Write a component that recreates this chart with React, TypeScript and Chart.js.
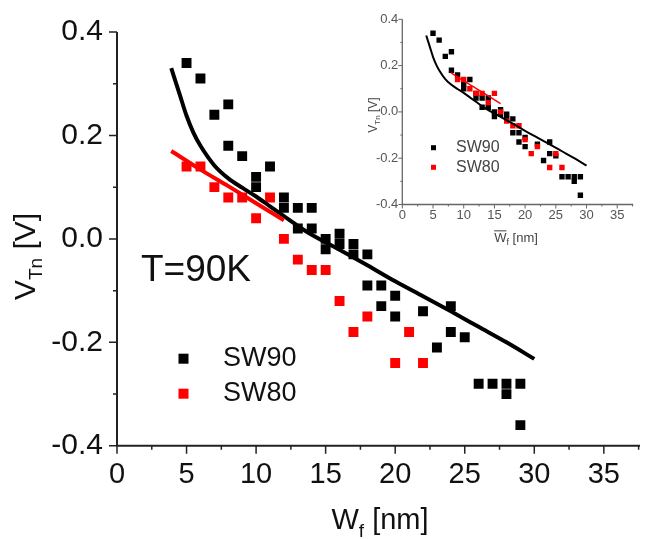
import React, { useEffect, useRef } from 'react';
import { Chart, registerables } from 'chart.js';
Chart.register(...registerables);

const FONT = '"Liberation Sans", Arial, Helvetica, sans-serif';

// ---- data ----
const seriesLabels = ['SW90', 'SW80'];
const annotationText = 'T=90K';

// SW90 (black squares) — same in main plot and inset
const sw90X = [5, 6, 7, 8, 8, 9, 10, 10, 11, 12, 12, 13, 13, 14, 14, 15, 15, 16, 16, 17, 17, 18, 18, 19, 19, 20, 20, 22, 23, 24, 24, 25, 26, 27, 28, 28, 29, 29];
const sw90Y = [0.34, 0.31, 0.24, 0.26, 0.18, 0.16, 0.12, 0.10, 0.14, 0.08, 0.06, 0.06, 0.02, 0.06, 0.02, 0.0, -0.02, 0.01, -0.01, -0.01, -0.03, -0.03, -0.09, -0.09, -0.13, -0.11, -0.15, -0.14, -0.21, -0.13, -0.18, -0.19, -0.28, -0.28, -0.28, -0.30, -0.28, -0.36];

// SW80 (red squares), main plot
const sw80X = [5, 6, 7, 8, 9, 10, 11, 12, 13, 14, 15, 16, 17, 18, 20, 21, 22];
const sw80Y = [0.14, 0.14, 0.10, 0.08, 0.08, 0.04, 0.08, 0.0, -0.04, -0.06, -0.06, -0.12, -0.18, -0.15, -0.24, -0.18, -0.24];
// SW80 in the inset (plotted against mean W_f)
const sw80InsetX = [9, 10, 11, 12, 13, 14, 15, 16, 17, 18, 19, 20, 21, 22, 24, 25, 26];

// fitted curves
const fit90X = [3.9, 4.5, 5, 5.5, 6, 7, 8, 9, 10, 11, 12, 13, 14, 16, 18, 20, 22, 24, 26, 28, 30];
const fit90Y = [0.33, 0.28, 0.238, 0.205, 0.18, 0.142, 0.117, 0.099, 0.082, 0.063, 0.044, 0.025, 0.008, -0.021, -0.051, -0.082, -0.111, -0.14, -0.17, -0.2, -0.232];
const fit80X = [3.9, 6, 8, 10, 12];
const fit80Y = [0.17, 0.134, 0.102, 0.069, 0.036];
const fit80InsetX = [7.9, 10, 12, 14, 16];

const xMin = 0, xMax = 37.6, xStep = 5, xMinor = 2.5;
const yMin = -0.4, yMax = 0.4, yStep = 0.2, yMinor = 0.1;

const BLACK = '#000000';
const RED = '#ff0000';

const pts = (xs: number[], ys: number[]) => xs.map((x, i) => ({ x, y: ys[i] }));

type Part = { t: string; size: number; dy: number };

function richWidth(ctx: CanvasRenderingContext2D, parts: Part[]) {
  let w = 0;
  for (const p of parts) {
    ctx.font = `${p.size}px ${FONT}`;
    w += ctx.measureText(p.t).width;
  }
  return w;
}

function drawRich(ctx: CanvasRenderingContext2D, parts: Part[], x: number, y: number, overlineFirst = false) {
  const w = richWidth(ctx, parts);
  let cx = x - w / 2;
  parts.forEach((p, i) => {
    ctx.font = `${p.size}px ${FONT}`;
    ctx.fillText(p.t, cx, y + p.dy);
    const pw = ctx.measureText(p.t).width;
    if (overlineFirst && i === 0) {
      ctx.save();
      ctx.strokeStyle = ctx.fillStyle as string;
      ctx.lineWidth = 1;
      ctx.beginPath();
      ctx.moveTo(cx, y - p.size * 0.82);
      ctx.lineTo(cx + pw, y - p.size * 0.82);
      ctx.stroke();
      ctx.restore();
    }
    cx += pw;
  });
}

type Decor = {
  axisColor: string;
  axisWidth: number;
  majorLen: number;
  minorLen: number;
  textColor: string;
  xTitle: { parts: Part[]; cx: number; baseline: number; overline: boolean };
  yTitle: { parts: Part[]; baselineX: number; cy: number };
  legend: { sq: number; x: number; ys: number[]; textX: number; font: number };
  note?: { text: string; x: number; y: number; font: number };
};

function decorPlugin(id: string, d: Decor) {
  return {
    id,
    afterDraw(chart: any) {
      const { ctx, chartArea: a, scales } = chart;
      const xs = scales.x, ys = scales.y;
      ctx.save();
      ctx.strokeStyle = d.axisColor;
      ctx.lineWidth = d.axisWidth;
      ctx.lineCap = 'butt';
      ctx.beginPath();
      ctx.moveTo(a.left, a.top);
      ctx.lineTo(a.left, a.bottom);
      ctx.lineTo(a.right, a.bottom);
      ctx.stroke();
      // x ticks
      ctx.lineWidth = Math.max(1, d.axisWidth * 0.75);
      ctx.beginPath();
      for (let i = 0; i * xMinor <= xMax + 1e-9; i++) {
        const v = i * xMinor;
        const px = xs.getPixelForValue(v);
        const len = i % 2 === 0 ? d.majorLen : d.minorLen;
        ctx.moveTo(px, a.bottom);
        ctx.lineTo(px, a.bottom + len);
      }
      // y ticks
      const n = Math.round((yMax - yMin) / yMinor);
      for (let i = 0; i <= n; i++) {
        const v = yMin + i * yMinor;
        const py = ys.getPixelForValue(v);
        const len = i % 2 === 0 ? d.majorLen : d.minorLen;
        ctx.moveTo(a.left, py);
        ctx.lineTo(a.left - len, py);
      }
      ctx.stroke();

      // titles
      ctx.fillStyle = d.textColor;
      ctx.textBaseline = 'alphabetic';
      ctx.textAlign = 'left';
      drawRich(ctx, d.xTitle.parts, d.xTitle.cx, d.xTitle.baseline, d.xTitle.overline);
      ctx.save();
      ctx.translate(d.yTitle.baselineX, d.yTitle.cy);
      ctx.rotate(-Math.PI / 2);
      drawRich(ctx, d.yTitle.parts, 0, 0);
      ctx.restore();

      // legend
      const colors = [BLACK, RED];
      ctx.textBaseline = 'middle';
      seriesLabels.forEach((lab, i) => {
        const y = d.legend.ys[i];
        ctx.fillStyle = colors[i];
        ctx.fillRect(d.legend.x - d.legend.sq / 2, y - d.legend.sq / 2, d.legend.sq, d.legend.sq);
        ctx.fillStyle = d.textColor;
        ctx.font = `${d.legend.font}px ${FONT}`;
        ctx.fillText(lab, d.legend.textX, y);
      });
      if (d.note) {
        ctx.font = `${d.note.font}px ${FONT}`;
        ctx.fillStyle = d.textColor;
        ctx.fillText(d.note.text, d.note.x, d.note.y);
      }
      ctx.restore();
    },
  };
}

function scaleOpts(tickColor: string, xFont: number, yFont: number, xPad: number, yPad: number, yW: number, xH: number) {
  return {
    x: {
      type: 'linear',
      position: 'bottom',
      min: xMin,
      max: xMax,
      ticks: {
        stepSize: xStep,
        includeBounds: false,
        autoSkip: false,
        maxRotation: 0,
        minRotation: 0,
        color: tickColor,
        padding: xPad,
        font: { family: FONT, size: xFont },
      },
      grid: { display: false, drawTicks: false },
      border: { display: false },
      afterFit: (s: any) => { s.height = xH; },
    },
    y: {
      type: 'linear',
      position: 'left',
      min: yMin,
      max: yMax,
      ticks: {
        stepSize: yStep,
        includeBounds: false,
        autoSkip: false,
        color: tickColor,
        padding: yPad,
        font: { family: FONT, size: yFont },
        callback: (v: any) => (Math.abs(Number(v)) < 1e-9 ? '0.0' : Number(v).toFixed(1)),
      },
      grid: { display: false, drawTicks: false },
      border: { display: false },
      afterFit: (s: any) => { s.width = yW; },
    },
  };
}

function datasets(redX: number[], redFitX: number[], r: number, lw90: number, lw80: number) {
  return [
    {
      label: 'SW80 fit', data: pts(redFitX, fit80Y), showLine: true, borderColor: RED, borderWidth: lw80,
      pointRadius: 0, cubicInterpolationMode: 'monotone', fill: false, order: 0,
    },
    {
      label: 'SW90 fit', data: pts(fit90X, fit90Y), showLine: true, borderColor: BLACK, borderWidth: lw90,
      pointRadius: 0, cubicInterpolationMode: 'monotone', fill: false, order: 1,
    },
    {
      label: seriesLabels[1], data: pts(redX, sw80Y), showLine: false, pointStyle: 'rect', pointRadius: r,
      backgroundColor: RED, borderWidth: 0, order: 2,
    },
    {
      label: seriesLabels[0], data: pts(sw90X, sw90Y), showLine: false, pointStyle: 'rect', pointRadius: r,
      backgroundColor: BLACK, borderWidth: 0, order: 3,
    },
  ];
}

function mainConfig(): any {
  return {
    type: 'scatter',
    data: { datasets: datasets(sw80X, fit80X, 7, 4, 4) },
    options: {
      responsive: false,
      animation: false,
      devicePixelRatio: 1,
      events: [],
      layout: { padding: { left: 0, top: 19.4, right: 1, bottom: 0 } },
      plugins: { legend: { display: false }, tooltip: { enabled: false } },
      scales: scaleOpts('#111111', 29, 30, 12, 14, 117, 93.2),
    },
    plugins: [
      decorPlugin('mainDecor', {
        axisColor: '#222222',
        axisWidth: 2,
        majorLen: 8,
        minorLen: 4,
        textColor: '#111111',
        xTitle: {
          parts: [
            { t: 'W', size: 29, dy: 0 },
            { t: 'f', size: 19, dy: 8 },
            { t: ' [nm]', size: 29, dy: 0 },
          ],
          cx: 380,
          baseline: 529,
          overline: false,
        },
        yTitle: {
          parts: [
            { t: 'V', size: 30, dy: 0 },
            { t: 'Tn', size: 19, dy: 7 },
            { t: ' [V]', size: 30, dy: 0 },
          ],
          baselineX: 35,
          cy: 256.5,
        },
        legend: { sq: 10, x: 183.5, ys: [358.7, 393.7], textX: 223, font: 27 },
        note: { text: annotationText, x: 141, y: 271, font: 37 },
      }),
    ],
  };
}

function insetConfig(): any {
  return {
    type: 'scatter',
    data: { datasets: datasets(sw80InsetX, fit80InsetX, 3.8, 2, 1.5) },
    options: {
      responsive: false,
      animation: false,
      devicePixelRatio: 1,
      events: [],
      layout: { padding: { left: 0, top: 19.3, right: 13.8, bottom: 0 } },
      plugins: { legend: { display: false }, tooltip: { enabled: false } },
      scales: scaleOpts('#555555', 13, 13, 3, 4, 402.3, 334.5),
    },
    plugins: [
      decorPlugin('insetDecor', {
        axisColor: '#666666',
        axisWidth: 1.3,
        majorLen: 4,
        minorLen: 2,
        textColor: '#444444',
        xTitle: {
          parts: [
            { t: 'W', size: 13, dy: 0 },
            { t: 'f', size: 9, dy: 3 },
            { t: ' [nm]', size: 13, dy: 0 },
          ],
          cx: 516,
          baseline: 241.5,
          overline: true,
        },
        yTitle: {
          parts: [
            { t: 'V', size: 12, dy: 0 },
            { t: 'Tn', size: 8, dy: 3 },
            { t: ' [V]', size: 12, dy: 0 },
          ],
          baselineX: 377,
          cy: 115,
        },
        legend: { sq: 5, x: 433.5, ys: [147.7, 167.3], textX: 456, font: 16 },
      }),
    ],
  };
}

export default function App() {
  const mainRef = useRef<HTMLCanvasElement>(null);
  const insetRef = useRef<HTMLCanvasElement>(null);
  useEffect(() => {
    document.body.style.margin = '0';
    const c1 = new Chart(mainRef.current as HTMLCanvasElement, mainConfig());
    const c2 = new Chart(insetRef.current as HTMLCanvasElement, insetConfig());
    return () => {
      c1.destroy();
      c2.destroy();
    };
  }, []);
  return (
    <div style={{ position: 'relative', width: 647, height: 539, background: '#ffffff' }}>
      <canvas ref={mainRef} width={647} height={539} style={{ position: 'absolute', left: 0, top: 0 }} />
      <canvas ref={insetRef} width={647} height={539} style={{ position: 'absolute', left: 0, top: 0 }} />
    </div>
  );
}
